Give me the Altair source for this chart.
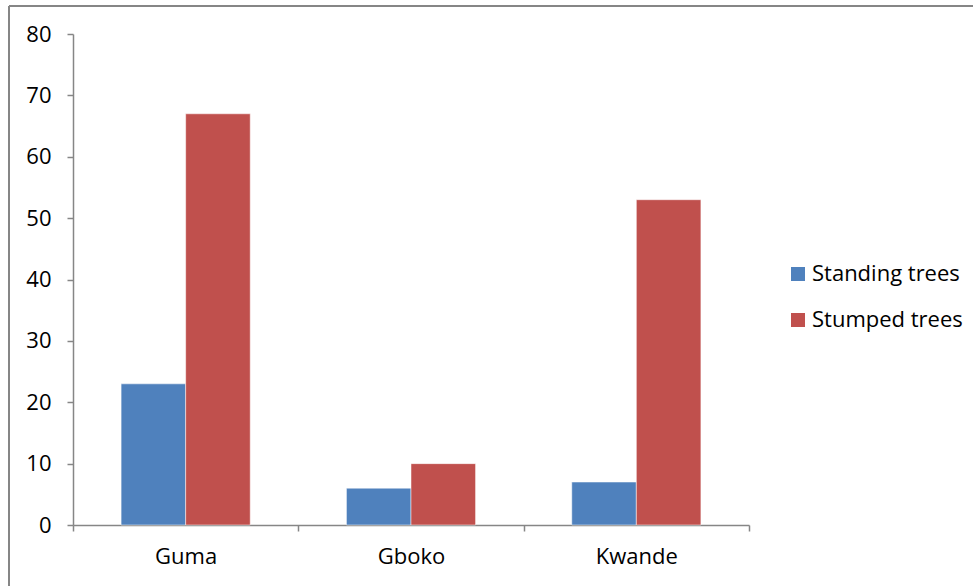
import altair as alt
import pandas as pd

regions = ["Guma", "Gboko", "Kwande"]
series = ["Standing trees", "Stumped trees"]
standing = [23, 6, 7]
stumped = [67, 10, 53]
y_ticks = [0, 10, 20, 30, 40, 50, 60, 70, 80]
colors = ["#4F81BD", "#C0504D"]

rows = []
for i, r in enumerate(regions):
    rows.append({"region": r, "series": series[0], "value": standing[i]})
    rows.append({"region": r, "series": series[1], "value": stumped[i]})
df = pd.DataFrame(rows)

FONT = "Open Sans"
FS = 22
AXIS_COLOR = "#868686"

bars = alt.Chart(df).mark_bar(stroke="#ffffff", strokeWidth=0.5).encode(
    x=alt.X("region:N", sort=regions,
            scale=alt.Scale(paddingInner=0, paddingOuter=0),
            axis=alt.Axis(title=None, labelAngle=0, tickBand="extent",
                          domainColor=AXIS_COLOR, domainWidth=1.5,
                          tickColor=AXIS_COLOR, tickWidth=1.5, tickSize=6,
                          labelPadding=15, labelFontSize=FS, labelFont=FONT,
                          labelColor="#000000")),
    xOffset=alt.XOffset("series:N", sort=series,
                        scale=alt.Scale(paddingInner=0, paddingOuter=0.745)),
    y=alt.Y("value:Q",
            scale=alt.Scale(domain=[0, 80], nice=False),
            axis=alt.Axis(title=None, values=y_ticks, grid=False,
                          domainColor=AXIS_COLOR, domainWidth=1.5,
                          tickColor=AXIS_COLOR, tickWidth=1.5, tickSize=6,
                          labelPadding=16, labelFontSize=FS, labelFont=FONT,
                          labelColor="#000000")),
    color=alt.Color("series:N", sort=series,
                    scale=alt.Scale(domain=series, range=colors),
                    legend=alt.Legend(title=None, orient="none",
                                      legendX=714, legendY=229,
                                      symbolType="square", symbolSize=196,
                                      symbolStrokeWidth=0, symbolOpacity=1,
                                      labelFontSize=FS, labelFont=FONT,
                                      labelColor="#000000", labelOffset=3,
                                      rowPadding=24)),
)

border_v = alt.Chart(df).mark_rule(color=AXIS_COLOR, strokeWidth=1.5, clip=False).encode(
    x=alt.value(-64), y=alt.value(-28), y2=alt.value(600))
border_h = alt.Chart(df).mark_rule(color=AXIS_COLOR, strokeWidth=1.5, clip=False).encode(
    x=alt.value(-64), x2=alt.value(950), y=alt.value(-28))

chart = alt.layer(border_v, border_h, bars).properties(
    width=676, height=491,
    autosize=alt.AutoSizeParams(type="none"),
    padding={"left": 73, "top": 34, "right": 224, "bottom": 61},
).configure(background="#ffffff").configure_view(strokeWidth=0, stroke=None)

chart.save("out.html", embed_options={"renderer": "svg", "actions": False})
